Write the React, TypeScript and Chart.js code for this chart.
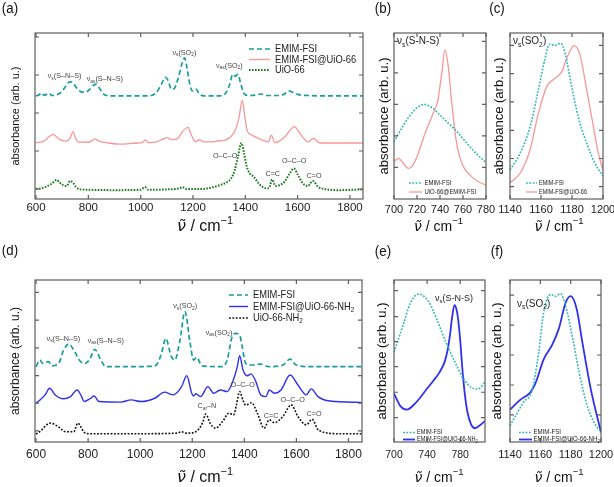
import React, { useEffect, useRef } from 'react';
import { Chart, registerables } from 'chart.js';

Chart.register(...registerables);

const FONT = '"Liberation Sans", Arial, Helvetica, sans-serif';
Chart.defaults.font.family = FONT;

// ---------------- data ----------------
// (a) overview, EMIM-FSI / EMIM-FSI@UiO-66 / UiO-66
const A_EMIM_X = [600,612,620,630,640,650,660,680,700,715,728,740,755,775,790,805,820,830,840,855,870,900,1000,1040,1060,1078,1095,1105,1118,1130,1145,1158,1168,1178,1188,1198,1212,1222,1240,1300,1325,1340,1352,1362,1372,1382,1395,1410,1440,1460,1480,1530,1550,1565,1580,1600,1640,1700,1850];
const A_EMIM_Y = [2.45,2.48,2.53,2.47,2.49,2.52,2.46,2.48,2.58,2.72,2.82,2.80,2.66,2.55,2.55,2.62,2.73,2.76,2.68,2.52,2.46,2.45,2.45,2.46,2.54,2.74,2.94,2.85,2.62,2.66,2.95,3.30,3.45,3.15,2.75,2.58,2.63,2.52,2.45,2.45,2.52,2.75,3.02,2.97,3.02,2.78,2.52,2.46,2.47,2.50,2.46,2.46,2.50,2.58,2.55,2.49,2.46,2.45,2.45];
const A_MIX_X = [600,630,650,666,680,700,715,730,742,750,762,795,812,825,840,870,920,985,1005,1016,1030,1060,1085,1100,1120,1140,1155,1165,1181,1192,1202,1212,1224,1240,1270,1300,1320,1345,1362,1375,1389,1398,1408,1425,1450,1488,1500,1512,1530,1555,1575,1588,1603,1618,1640,1660,1685,1850];
const A_MIX_Y = [1.22,1.26,1.38,1.44,1.36,1.27,1.26,1.33,1.51,1.35,1.24,1.23,1.26,1.32,1.26,1.22,1.18,1.21,1.22,1.29,1.22,1.24,1.31,1.35,1.30,1.32,1.46,1.55,1.62,1.45,1.30,1.24,1.30,1.24,1.24,1.27,1.28,1.38,1.55,1.85,2.34,1.90,1.52,1.42,1.33,1.24,1.42,1.22,1.26,1.40,1.58,1.64,1.52,1.38,1.24,1.33,1.21,1.21];
const A_MOF_X = [600,620,641,660,679,690,705,717,730,742,752,765,800,900,1000,1016,1030,1100,1150,1160,1175,1230,1270,1302,1330,1345,1360,1372,1385,1395,1405,1418,1432,1455,1480,1490,1503,1515,1530,1550,1569,1586,1601,1620,1639,1658,1678,1703,1760,1850];
const A_MOF_Y = [0.00,0.02,0.07,0.14,0.24,0.17,0.10,0.08,0.21,0.16,0.06,0.00,-0.02,-0.03,-0.02,0.05,-0.02,-0.01,0.02,0.05,0.00,0.00,0.04,0.10,0.18,0.27,0.50,0.85,1.21,0.95,0.60,0.40,0.32,0.12,0.02,0.02,0.25,0.08,0.10,0.19,0.40,0.54,0.37,0.15,0.08,0.21,0.06,0.00,-0.03,-0.01];

// (b) S-N-S region
const B_EMIM_X = [700,707,714,720,726,733,740,746,752,758,764,772,780];
const B_EMIM_Y = [0.345,0.43,0.505,0.55,0.57,0.55,0.505,0.465,0.425,0.38,0.33,0.27,0.22];
const B_MIX_X = [700,704,708,712.5,716,720,727,734,738,741.5,744.3,747.2,750,754,759,766,772,780];
const B_MIX_Y = [0.225,0.245,0.215,0.185,0.2,0.255,0.395,0.515,0.59,0.757,0.898,0.797,0.596,0.355,0.215,0.145,0.11,0.084];

// (c) SO2 region
const C_EMIM_X = [1140,1146.5,1153,1158.3,1162.6,1165.4,1169,1172.7,1175.5,1179.8,1184,1189.5,1194.8,1200];
const C_EMIM_Y = [0.175,0.275,0.436,0.657,0.847,0.932,0.925,0.938,0.878,0.677,0.496,0.335,0.215,0.139];
const C_MIX_X = [1140,1146.5,1152.9,1158.3,1163.7,1169,1173.4,1176.6,1181.3,1185.2,1189.5,1193.8,1197,1200];
const C_MIX_Y = [0.098,0.155,0.295,0.516,0.677,0.727,0.767,0.848,0.924,0.867,0.657,0.436,0.275,0.175];

// (d) overview, EMIM-FSI / EMIM-FSI@UiO-66-NH2 / UiO-66-NH2
const D_EMIM_X = [600,615,625,648,661,687,706,726,745,771,790,810,825,849,868,950,1040,1062,1082,1098,1120,1133,1153,1172,1191,1205,1217,1237,1315,1334,1353,1366,1382,1392,1405,1429,1463,1495,1548,1576,1599,1652,1850];
const D_EMIM_Y = [2.32,2.56,2.44,2.50,2.35,2.44,2.92,3.14,2.92,2.50,2.44,2.66,2.95,2.56,2.32,2.32,2.33,2.38,2.80,3.34,2.68,2.56,3.28,4.31,3.22,2.56,2.66,2.35,2.32,2.56,3.40,3.52,3.46,3.04,2.44,2.38,2.41,2.32,2.38,2.59,2.38,2.32,2.32];
const D_MIX_X = [600,615,635,652,674,706,732,758,775,784,810,823,842,926,965,1004,1056,1094,1127,1159,1179,1198,1205,1214,1232,1260,1282,1308,1334,1353,1373,1382,1395,1412,1425,1444,1463,1483,1496,1515,1541,1576,1606,1638,1657,1683,1729,1850];
const D_MIX_Y = [1.00,1.12,1.30,1.54,1.30,1.16,1.24,1.48,1.24,1.06,1.18,1.26,1.06,1.04,1.12,1.06,1.18,1.40,1.30,1.60,1.99,1.36,1.26,1.34,1.24,1.60,1.36,1.48,1.42,1.72,2.32,2.72,2.20,1.99,2.06,1.79,1.30,1.24,1.48,1.36,1.48,2.02,1.66,1.30,1.52,1.24,1.08,1.03];
const D_MOF_X = [600,614,654,686,713,745,760,785,800,1000,1140,1159,1175,1200,1224,1240,1252,1269,1289,1315,1341,1359,1370,1382,1395,1405,1428,1450,1476,1496,1515,1548,1580,1606,1638,1660,1685,1760,1850];
const D_MOF_Y = [-0.11,-0.03,0.28,0.15,-0.03,-0.03,0.28,-0.05,-0.10,-0.10,-0.08,-0.03,-0.08,-0.07,0.05,0.30,0.61,0.27,0.10,0.32,0.64,0.58,0.95,1.42,1.10,0.93,1.02,0.64,0.10,0.40,0.30,0.52,0.94,0.52,0.22,0.42,0.03,-0.10,-0.10];

// (e) S-N-S region, NH2
const E_EMIM_X = [700,711.5,719.6,729.8,742,752.3,762.6,772.8,783,793.3,801.5,810];
const E_EMIM_Y = [0.555,0.73,0.855,0.913,0.865,0.75,0.617,0.503,0.4,0.337,0.327,0.37];
const E_MIX_X = [700,708,715.6,724,731,740,747.8,755,760.9,764.5,767.4,770.5,773.1,775.5,777.2,780,782.5,785.5,788.6,793,797.6,803,810];
const E_MIX_Y = [0.30,0.22,0.20,0.23,0.27,0.33,0.38,0.43,0.49,0.56,0.65,0.78,0.845,0.82,0.77,0.63,0.46,0.30,0.19,0.11,0.085,0.10,0.13];

// (f) SO2 region, NH2
const F_EMIM_X = [1140,1148.9,1154.4,1158.9,1162.2,1166.7,1170,1173.3,1176.7,1181.1,1185.6,1191,1195.5,1200];
const F_EMIM_Y = [0.10,0.245,0.315,0.55,0.80,0.91,0.90,0.915,0.84,0.65,0.43,0.22,0.12,0.06];
const F_MIX_X = [1140,1146.7,1153.3,1156.7,1162.2,1167.8,1172.2,1176.7,1180,1184,1187.8,1193.3,1200];
const F_MIX_Y = [0.20,0.26,0.305,0.36,0.51,0.60,0.70,0.86,0.90,0.82,0.61,0.325,0.06];

// tick values
const WIDE_X_TICKS = [600, 800, 1000, 1200, 1400, 1600, 1800];
const A_Y_TICKS = [0, 1, 2, 3, 4];
const D_Y_TICKS = [0, 1, 2, 3, 4, 5];
const SNS_X_TICKS = [700, 720, 740, 760, 780];
const SNS2_X_TICKS = [700, 740, 780];
const SO2_X_TICKS = [1140, 1160, 1180, 1200];
const B_Y_TICKS = [0.19, 0.38, 0.57, 0.76, 0.95];
const C_Y_TICKS = [0.074, 0.244, 0.414, 0.585, 0.755, 0.925];
const E_Y_TICKS = [0.15, 0.307, 0.465, 0.619, 0.774, 0.934];
const F_Y_TICKS = [0.167, 0.352, 0.537, 0.722, 0.907];

// ---------------- styles ----------------
const TEAL = '#179d9d';
const TEAL_DOT = '#2fb7b7';
const PINK = '#f79898';
const GREEN = '#1d7a1d';
const BLUE = '#3030f2';
const BLACK = '#111111';

// ---------------- rich text ----------------
type Seg = { t: string; k: 'n' | 'sub' | 'sup' | 'it' };
function parseRich(s: string): Seg[] {
  const out: Seg[] = [];
  let i = 0;
  let buf = '';
  while (i < s.length) {
    const c = s[i];
    if ((c === '_' || c === '^' || c === '~') && s[i + 1] === '{') {
      if (buf) { out.push({ t: buf, k: 'n' }); buf = ''; }
      const end = s.indexOf('}', i);
      out.push({ t: s.slice(i + 2, end), k: c === '_' ? 'sub' : c === '^' ? 'sup' : 'it' });
      i = end + 1;
    } else {
      buf += c;
      i++;
    }
  }
  if (buf) out.push({ t: buf, k: 'n' });
  return out;
}

function drawRich(ctx: CanvasRenderingContext2D, text: string, x: number, y: number, size: number,
  align: 'left' | 'center', color: string, sx: number) {
  const segs = parseRich(text);
  const fontOf = (sg: Seg) => {
    const sz = sg.k === 'sub' || sg.k === 'sup' ? size * 0.68 : size;
    if (sg.k === 'it') return `italic ${sz}px "DejaVu Sans", sans-serif`;
    return `${sz}px ${FONT}`;
  };
  let total = 0;
  const widths = segs.map((sg) => {
    ctx.font = fontOf(sg);
    const w = ctx.measureText(sg.t).width;
    total += w;
    return w;
  });
  const startX = align === 'center' ? x - (total * sx) / 2 : x;
  ctx.save();
  ctx.translate(startX, y);
  ctx.scale(sx, 1);
  ctx.fillStyle = color;
  ctx.textBaseline = 'middle';
  ctx.textAlign = 'left';
  let cx = 0;
  segs.forEach((sg, i) => {
    ctx.font = fontOf(sg);
    const dy = sg.k === 'sub' ? size * 0.3 : sg.k === 'sup' ? -size * 0.38 : 0;
    ctx.fillText(sg.t, cx, dy);
    cx += widths[i];
  });
  ctx.restore();
}

// ---------------- panel config ----------------
interface SeriesCfg { label: string; xs: number[]; ys: number[]; color: string; width: number; dash: number[] }
interface NoteCfg { text: string; x: number; y: number; size: number; align: 'left' | 'center'; color: string }
interface PanelCfg {
  tag: string; tagX: number; tagY: number;
  box: { left: number; top: number; w: number; h: number };
  area: { l: number; t: number; r: number; b: number };
  xMin: number; xMax: number; yMin: number; yMax: number;
  xTicks: number[]; yTicks: number[];
  tickSize: number; tickPad: number;
  yTitleSize: number; yTitlePad: number;
  xTitleX: number; xTitleY: number; xTitleSize: number;
  series: SeriesCfg[];
  notes: NoteCfg[];
  legend: { x1: number; x2: number; tx: number; rows: number[]; size: number; sx: number };
}

const note = (text: string, x: number, y: number, size = 7.2, align: 'left' | 'center' = 'center', color = '#444'): NoteCfg =>
  ({ text, x, y, size, align, color });

const PANELS: PanelCfg[] = [
  {
    tag: '(a)', tagX: 10, tagY: 9,
    box: { left: 0, top: 0, w: 372, h: 245 },
    area: { l: 35, t: 33, r: 363, b: 199 },
    xMin: 596, xMax: 1850, yMin: -0.263, yMax: 4.105,
    xTicks: WIDE_X_TICKS, yTicks: A_Y_TICKS,
    tickSize: 11.5, tickPad: 1.6, yTitleSize: 11, yTitlePad: 9.4,
    xTitleX: 205, xTitleY: 227, xTitleSize: 16,
    series: [
      { label: 'EMIM-FSI', xs: A_EMIM_X, ys: A_EMIM_Y, color: TEAL, width: 1.7, dash: [5, 3] },
      { label: 'EMIM-FSI@UiO-66', xs: A_MIX_X, ys: A_MIX_Y, color: PINK, width: 1.3, dash: [] },
      { label: 'UiO-66', xs: A_MOF_X, ys: A_MOF_Y, color: GREEN, width: 2, dash: [1.6, 1.4] },
    ],
    notes: [
      note('ν_{s}(S–N–S)', 709, 2.97), note('ν_{as}(S–N–S)', 863, 2.89),
      note('ν_{s}(SO_{2})', 1167, 3.58), note('ν_{as}(SO_{2})', 1339, 3.24),
      note('O–C–O', 1323, 0.87), note('C=C', 1505, 0.39), note('O–C–O', 1587, 0.74), note('C=O', 1663, 0.34),
    ],
    legend: { x1: 249, x2: 270, tx: 275, rows: [49, 59.5, 70], size: 11, sx: 0.85 },
  },
  {
    tag: '(b)', tagX: 383, tagY: 9,
    box: { left: 372, top: 0, w: 126, h: 245 },
    area: { l: 394, t: 33, r: 486, b: 199 },
    xMin: 700, xMax: 780, yMin: 0, yMax: 1,
    xTicks: SNS_X_TICKS, yTicks: B_Y_TICKS,
    tickSize: 11, tickPad: 4.4, yTitleSize: 13, yTitlePad: 4.7,
    xTitleX: 438.5, xTitleY: 227, xTitleSize: 14,
    series: [
      { label: 'EMIM-FSI', xs: B_EMIM_X, ys: B_EMIM_Y, color: TEAL_DOT, width: 1.6, dash: [1.8, 1.5] },
      { label: 'UiO-66@EMIM-FSI', xs: B_MIX_X, ys: B_MIX_Y, color: PINK, width: 1.3, dash: [] },
    ],
    notes: [note('ν_{s}(S-N-S)', 702.6, 0.948, 10, 'left', '#222')],
    legend: { x1: 409, x2: 422, tx: 424.5, rows: [183, 192], size: 7, sx: 0.85 },
  },
  {
    tag: '(c)', tagX: 497, tagY: 9,
    box: { left: 484, top: 0, w: 130, h: 245 },
    area: { l: 510, t: 33, r: 603, b: 199 },
    xMin: 1140, xMax: 1200, yMin: 0, yMax: 1,
    xTicks: SO2_X_TICKS, yTicks: C_Y_TICKS,
    tickSize: 11, tickPad: 4.4, yTitleSize: 13, yTitlePad: 7.7,
    xTitleX: 559, xTitleY: 227, xTitleSize: 14,
    series: [
      { label: 'EMIM-FSI', xs: C_EMIM_X, ys: C_EMIM_Y, color: TEAL_DOT, width: 1.6, dash: [1.8, 1.5] },
      { label: 'EMIM-FSI@UiO-66', xs: C_MIX_X, ys: C_MIX_Y, color: PINK, width: 1.3, dash: [] },
    ],
    notes: [note('ν_{s}(SO_{2})', 1141.9, 0.948, 10, 'left', '#222')],
    legend: { x1: 526, x2: 537, tx: 539, rows: [183, 192], size: 6.5, sx: 0.85 },
  },
  {
    tag: '(d)', tagX: 10, tagY: 251,
    box: { left: 0, top: 245, w: 372, h: 250 },
    area: { l: 35, t: 280, r: 362, b: 442 },
    xMin: 596, xMax: 1852, yMin: -0.40, yMax: 5.45,
    xTicks: WIDE_X_TICKS, yTicks: D_Y_TICKS,
    tickSize: 12, tickPad: 5.3, yTitleSize: 12, yTitlePad: 8.8,
    xTitleX: 205, xTitleY: 478, xTitleSize: 16,
    series: [
      { label: 'EMIM-FSI', xs: D_EMIM_X, ys: D_EMIM_Y, color: TEAL, width: 1.7, dash: [5, 3] },
      { label: 'EMIM-FSI@UiO-66-NH_{2}', xs: D_MIX_X, ys: D_MIX_Y, color: BLUE, width: 1.4, dash: [] },
      { label: 'UiO-66-NH_{2}', xs: D_MOF_X, ys: D_MOF_Y, color: BLACK, width: 1.6, dash: [1.8, 1.6] },
    ],
    notes: [
      note('ν_{s}(S–N–S)', 705, 3.32), note('ν_{as}(S–N–S)', 868, 3.25),
      note('ν_{s}(SO_{2})', 1173, 4.51), note('ν_{as}(SO_{2})', 1303, 3.54),
      note('C_{ar}–N', 1256, 0.90), note('O–C–O', 1394, 1.66), note('C=C', 1503, 0.54),
      note('O–C–O', 1586, 1.12), note('C=O', 1668, 0.61),
    ],
    legend: { x1: 229, x2: 248, tx: 253, rows: [295, 306.5, 318], size: 11, sx: 0.85 },
  },
  {
    tag: '(e)', tagX: 383, tagY: 252,
    box: { left: 372, top: 245, w: 126, h: 250 },
    area: { l: 394, t: 280, r: 485, b: 442 },
    xMin: 700, xMax: 810, yMin: 0, yMax: 1,
    xTicks: SNS2_X_TICKS, yTicks: E_Y_TICKS,
    tickSize: 10.5, tickPad: 6.7, yTitleSize: 13, yTitlePad: 2.7,
    xTitleX: 439, xTitleY: 478, xTitleSize: 14,
    series: [
      { label: 'EMIM-FSI', xs: E_EMIM_X, ys: E_EMIM_Y, color: TEAL_DOT, width: 1.6, dash: [1.8, 1.5] },
      { label: 'EMIM-FSI@UiO-66-NH_{2}', xs: E_MIX_X, ys: E_MIX_Y, color: BLUE, width: 1.8, dash: [] },
    ],
    notes: [note('ν_{s}(S-N-S)', 749.6, 0.887, 9, 'left', '#222')],
    legend: { x1: 403, x2: 415, tx: 417, rows: [432.5, 439.5], size: 6.6, sx: 0.85 },
  },
  {
    tag: '(f)', tagX: 497, tagY: 252,
    box: { left: 484, top: 245, w: 130, h: 250 },
    area: { l: 510, t: 280, r: 601, b: 442 },
    xMin: 1140, xMax: 1200, yMin: 0, yMax: 1,
    xTicks: SO2_X_TICKS, yTicks: F_Y_TICKS,
    tickSize: 11, tickPad: 6.4, yTitleSize: 13, yTitlePad: 5.7,
    xTitleX: 559, xTitleY: 478, xTitleSize: 14,
    series: [
      { label: 'EMIM-FSI', xs: F_EMIM_X, ys: F_EMIM_Y, color: TEAL_DOT, width: 1.6, dash: [1.8, 1.5] },
      { label: 'EMIM-FSI@UiO-66-NH_{2}', xs: F_MIX_X, ys: F_MIX_Y, color: BLUE, width: 1.8, dash: [] },
    ],
    notes: [note('ν_{s}(SO_{2})', 1144.6, 0.852, 10, 'left', '#222')],
    legend: { x1: 519, x2: 532, tx: 533.5, rows: [432.5, 439.5], size: 7.2, sx: 0.85 },
  },
];

// ---------------- components ----------------
function Panel({ cfg }: { cfg: PanelCfg }) {
  const ref = useRef<HTMLCanvasElement>(null);
  useEffect(() => {
    const canvas = ref.current;
    if (!canvas) return;
    const { box, area } = cfg;
    const ox = box.left;
    const oy = box.top;
    const deco = {
      id: 'deco',
      afterDraw(chart: any) {
        const ctx: CanvasRenderingContext2D = chart.ctx;
        const ca = chart.chartArea;
        const xs = chart.scales.x;
        const ys = chart.scales.y;
        ctx.save();
        ctx.strokeStyle = '#5e5e5e';
        ctx.lineWidth = 1.2;
        ctx.setLineDash([]);
        ctx.strokeRect(ca.left, ca.top, ca.right - ca.left, ca.bottom - ca.top);
        const tl = 4;
        ctx.beginPath();
        cfg.xTicks.forEach((v) => {
          const px = xs.getPixelForValue(v);
          ctx.moveTo(px, ca.bottom); ctx.lineTo(px, ca.bottom - tl);
          ctx.moveTo(px, ca.top); ctx.lineTo(px, ca.top + tl);
        });
        cfg.yTicks.forEach((v) => {
          const py = ys.getPixelForValue(v);
          ctx.moveTo(ca.left, py); ctx.lineTo(ca.left + tl, py);
          ctx.moveTo(ca.right, py); ctx.lineTo(ca.right - tl, py);
        });
        ctx.stroke();

        cfg.notes.forEach((n) => {
          drawRich(ctx, n.text, xs.getPixelForValue(n.x), ys.getPixelForValue(n.y), n.size, n.align, n.color, 1);
        });

        const lg = cfg.legend;
        cfg.series.forEach((s, i) => {
          const y = lg.rows[i] - oy;
          ctx.beginPath();
          ctx.strokeStyle = s.color;
          ctx.lineWidth = s.width;
          ctx.setLineDash(s.dash);
          ctx.moveTo(lg.x1 - ox, y);
          ctx.lineTo(lg.x2 - ox, y);
          ctx.stroke();
          ctx.setLineDash([]);
          drawRich(ctx, s.label, lg.tx - ox, y, lg.size, 'left', '#222', lg.sx);
        });

        drawRich(ctx, '~{\u03BD\u0303} / cm^{\u22121}', cfg.xTitleX - ox, cfg.xTitleY - oy, cfg.xTitleSize, 'center', '#111', 1);
        drawRich(ctx, cfg.tag, cfg.tagX - ox, cfg.tagY - oy, 14, 'center', '#111', 0.95);
        ctx.restore();
      },
    };

    const chart = new Chart(canvas, {
      type: 'line',
      data: {
        datasets: cfg.series.map((s) => ({
          label: s.label,
          data: s.xs.map((x, i) => ({ x, y: s.ys[i] })),
          borderColor: s.color,
          borderWidth: s.width,
          borderDash: s.dash,
          pointRadius: 0,
          fill: false,
          cubicInterpolationMode: 'monotone' as const,
        })),
      },
      options: {
        responsive: false,
        maintainAspectRatio: false,
        animation: false,
        events: [],
        layout: {
          padding: { left: 0, top: area.t - box.top, right: box.left + box.w - area.r, bottom: 0 },
        },
        plugins: { legend: { display: false }, tooltip: { enabled: false } },
        scales: {
          x: {
            type: 'linear',
            min: cfg.xMin,
            max: cfg.xMax,
            grid: { display: false, drawTicks: false },
            border: { display: false },
            ticks: {
              font: { size: cfg.tickSize, family: FONT },
              color: '#222',
              padding: cfg.tickPad,
              maxRotation: 0,
              autoSkip: false,
              callback: (v: any) => String(v),
            },
            afterBuildTicks: (s: any) => { s.ticks = cfg.xTicks.map((v) => ({ value: v })); },
            afterFit: (s: any) => {
              s.height = box.top + box.h - area.b;
              s.paddingLeft = 0;
              s.paddingRight = 0;
            },
          },
          y: {
            type: 'linear',
            min: cfg.yMin,
            max: cfg.yMax,
            grid: { display: false, drawTicks: false },
            border: { display: false },
            ticks: { display: false },
            title: {
              display: true,
              text: 'absorbance (arb. u.)',
              color: '#111',
              font: { size: cfg.yTitleSize, family: FONT },
              padding: { top: cfg.yTitlePad, bottom: 0 },
            },
            afterFit: (s: any) => {
              s.width = area.l - box.left;
              s.paddingTop = 0;
              s.paddingBottom = 0;
            },
          },
        },
      } as any,
      plugins: [deco],
    });
    return () => chart.destroy();
  }, [cfg]);
  return (
    <canvas
      ref={ref}
      width={cfg.box.w}
      height={cfg.box.h}
      style={{ position: 'absolute', left: cfg.box.left, top: cfg.box.top, width: cfg.box.w, height: cfg.box.h }}
    />
  );
}

export default function App() {
  return (
    <div style={{ position: 'absolute', left: 0, top: 0, width: 614, height: 487, overflow: 'hidden', background: '#fff' }}>
      {PANELS.map((p) => (
        <Panel key={p.tag} cfg={p} />
      ))}
    </div>
  );
}
